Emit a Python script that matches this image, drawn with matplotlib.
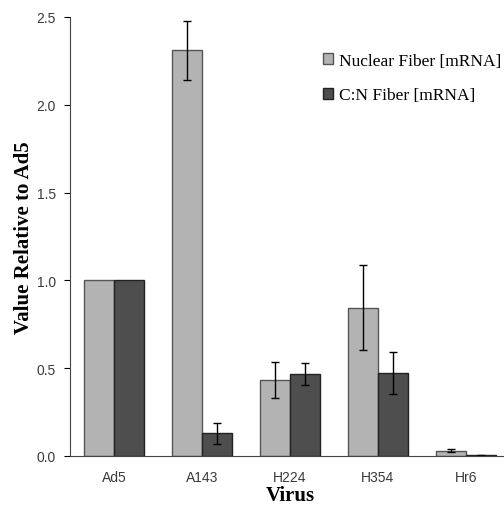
import numpy as np
import matplotlib
matplotlib.use("Agg")
import matplotlib.pyplot as plt

viruses = ["Ad5", "A143", "H224", "H354", "Hr6"]
nuclear = [1.0, 2.31, 0.433, 0.845, 0.03]
nuclear_err = [0.0, 0.17, 0.10, 0.24, 0.01]
cn = [1.0, 0.13, 0.467, 0.474, 0.003]
cn_err = [0.0, 0.06, 0.065, 0.12, 0.002]

LIGHT = "#b3b3b3"
DARK = "#4e4e4e"
W = 0.34

fig = plt.figure(figsize=(5.04, 5.10), dpi=100)
ax = fig.add_axes([70 / 504, 53 / 510, 440 / 504, 439 / 510])

x = np.arange(len(viruses))
ax.bar(x - W / 2, nuclear, W, color=LIGHT, edgecolor="#555555", linewidth=1,
       label="Nuclear Fiber [mRNA]")
ax.bar(x + W / 2, cn, W, color=DARK, edgecolor="#222222", linewidth=1,
       label="C:N Fiber [mRNA]")

# error bars only where there is an error (Ad5 is the reference)
for off, vals, errs in [(-W / 2, nuclear, nuclear_err), (W / 2, cn, cn_err)]:
    idx = [i for i, e in enumerate(errs) if e > 0]
    ax.errorbar(x[idx] + off, np.array(vals)[idx], yerr=np.array(errs)[idx],
                fmt="none", ecolor="black", elinewidth=1, capsize=3, capthick=1)

ax.set_xlim(-0.5, 4.5)
ax.set_ylim(0, 2.5)
ax.set_yticks([0, 0.5, 1.0, 1.5, 2.0, 2.5])
ax.set_yticklabels(["0.0", "0.5", "1.0", "1.5", "2.0", "2.5"])
ax.set_xticks(x)
ax.set_xticklabels(viruses)
ax.tick_params(axis="x", length=0, pad=10)
ax.tick_params(axis="y", length=4, direction="out", pad=6)
for lab in ax.get_xticklabels() + ax.get_yticklabels():
    lab.set_family("Liberation Sans")
    lab.set_fontsize(10)
    lab.set_color("#3a3a3a")

ax.spines["top"].set_visible(False)
ax.spines["right"].set_visible(False)
ax.spines["left"].set_color("#444444")
ax.spines["bottom"].set_color("#444444")

ax.set_ylabel("Value Relative to Ad5", family="Liberation Serif",
              fontweight="bold", fontsize=15, labelpad=2)
ax.set_xlabel("Virus", family="Liberation Serif", fontweight="bold",
              fontsize=15, labelpad=1)

ax.legend(loc="upper left", bbox_to_anchor=(316 / 504, 1 - 47 / 510),
          bbox_transform=fig.transFigure, frameon=False,
          prop={"family": "Liberation Serif", "size": 12.5},
          handlelength=0.6, handleheight=0.6, handletextpad=0.3,
          labelspacing=1.05, borderaxespad=0)

fig.savefig("out.png", dpi=100)
